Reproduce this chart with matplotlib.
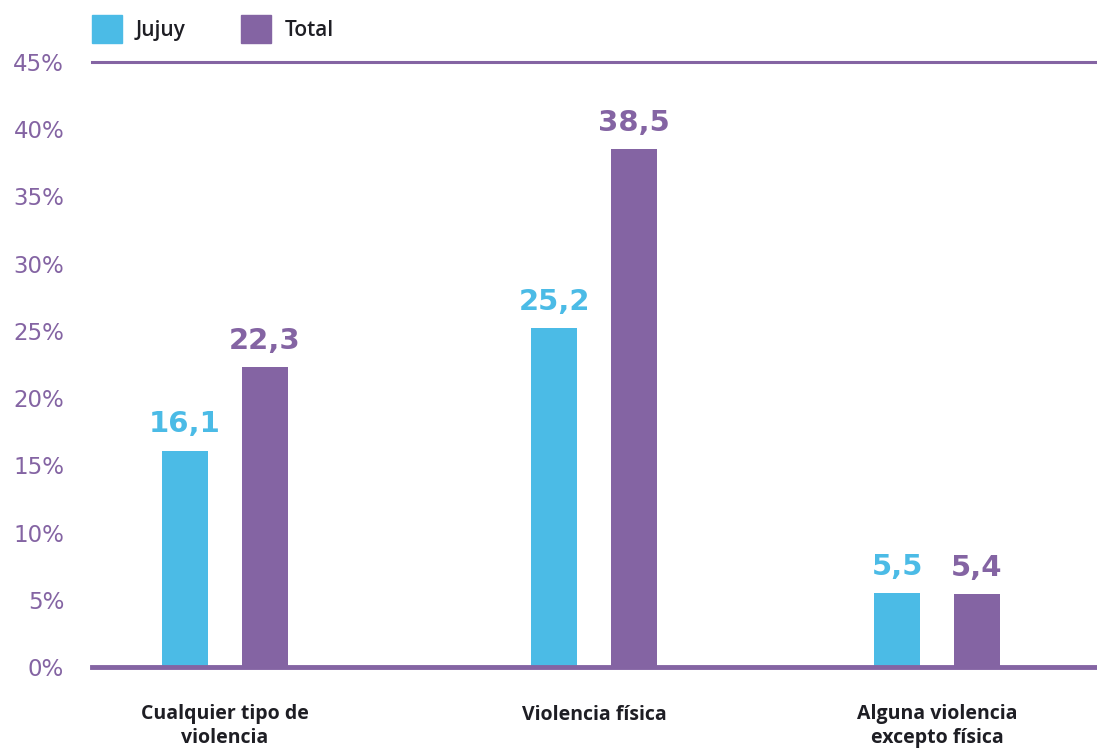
import matplotlib.pyplot as plt
from matplotlib.patches import Patch

categories = ["Cualquier tipo de\nviolencia", "Violencia física", "Alguna violencia\nexcepto física"]
jujuy = [16.1, 25.2, 5.5]
total = [22.3, 38.5, 5.4]
series_names = ["Jujuy", "Total"]
yticks = [0, 5, 10, 15, 20, 25, 30, 35, 40, 45]

cyan = "#4bbbe6"
purple = "#8464a3"
dark = "#1e1e24"

xpos = [0, 1, 1.93]
w = 0.125
off = 0.108

fig = plt.figure(figsize=(10.97, 7.51), dpi=100)
ax = fig.add_axes([92/1097, 84/751, 1 - 92/1097, (667-62)/751])

ax.bar([x - off for x in xpos], jujuy, w, color=cyan, zorder=2)
ax.bar([x + off for x in xpos], total, w, color=purple, zorder=2)

for x, v in zip(xpos, jujuy):
    ax.annotate(f"{v:.1f}".replace(".", ","), (x - off, v), xytext=(0, 9), textcoords="offset points",
                ha="center", va="bottom", fontsize=21, fontweight="bold", color=cyan)
for x, v in zip(xpos, total):
    ax.annotate(f"{v:.1f}".replace(".", ","), (x + off, v), xytext=(0, 9), textcoords="offset points",
                ha="center", va="bottom", fontsize=21, fontweight="bold", color=purple)

ax.set_xlim(-0.36, 2.363)
ax.set_ylim(0, 45)
ax.set_yticks(yticks)
ax.set_yticklabels([f"{t}%" for t in yticks], color=purple, fontsize=16.5)
ax.tick_params(axis="y", length=0, pad=20)
ax.set_xticks(xpos)
ax.set_xticklabels(categories, fontsize=14, fontweight="bold", color=dark, family="Open Sans",
                   linespacing=1.25)
ax.tick_params(axis="x", length=0, pad=27)

for s in ["left", "right", "bottom"]:
    ax.spines[s].set_visible(False)
ax.spines["top"].set_color(purple)
ax.spines["top"].set_linewidth(2.2)
ax.axhline(0, color=purple, lw=3.5, zorder=3, clip_on=False)

handles = [Patch(color=cyan), Patch(color=purple)]
fig.legend(handles, series_names, loc="upper left", bbox_to_anchor=(92/1097, 1 - 15/751), ncol=2,
           frameon=False, prop={"family": "Open Sans", "size": 15, "weight": "semibold"},
           borderpad=0, borderaxespad=0,
           handlelength=1.45, handleheight=1.67, handletextpad=0.62, columnspacing=2.7, labelcolor=dark)

fig.savefig("out.png", dpi=100)
